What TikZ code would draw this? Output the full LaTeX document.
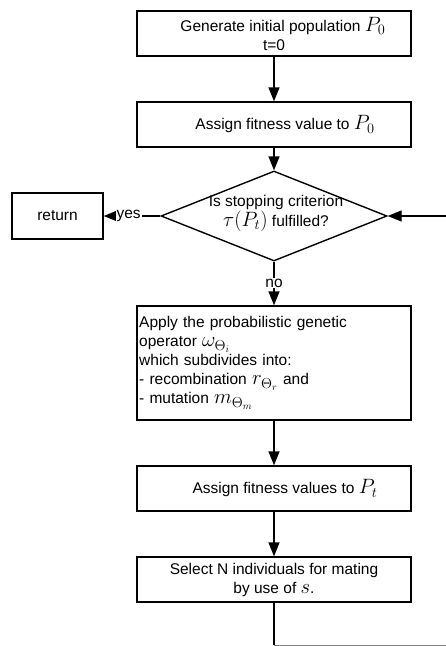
\documentclass[tikz,border=0pt]{standalone}
\usepackage{fontspec}
\setmainfont{Liberation Sans}
\usetikzlibrary{shapes.geometric,arrows.meta}
\newcommand{\mymath}[1]{{\fontsize{20}{19}\selectfont$#1$}}
\newcommand{\tightlines}{\lineskiplimit=-30pt\relax\lineskip=0pt\relax}
\begin{document}
\begin{tikzpicture}[x=1pt,y=-1pt,
  font=\fontsize{15.5}{19}\selectfont\tightlines,
  box/.style={draw,line width=1.4pt,minimum width=274pt,inner sep=0pt,align=center},
  dec/.style={draw,diamond,line width=1.4pt,minimum width=226pt,minimum height=90pt,inner sep=0pt},
  arr/.style={line width=1.4pt,-{Triangle[length=14pt,width=11pt]}},
  con/.style={line width=1.4pt},
  lbl/.style={fill=white,inner sep=1pt}]
\useasboundingbox (0,0) rectangle (446,646);
\node[box,minimum height=45pt] (b1) at (274,33.5) {\hspace*{18pt}Generate initial population \mymath{P_0}\\t=0};
\node[box,minimum height=45pt] (b2) at (274,124.5) {\hspace*{22pt}Assign fitness value to \mymath{P_0}};
\node[dec] (d) at (274,216) {};
\node[align=center] (dt) at (276,213) {Is stopping criterion\\[1pt]\mymath{\tau(P_t)} fulfilled?};
\node[draw,line width=1.4pt,minimum width=91pt,minimum height=46pt,inner sep=0pt] (r) at (57.5,216) {return};
\node[box,minimum height=114pt] (b3) at (274,363) {};
\node[text width=270pt,align=left,inner sep=0pt,anchor=west] (b3t) at (139,363) {Apply the probabilistic genetic\\operator \mymath{\omega_{\Theta_i}}\\which subdivides into:\\- recombination \mymath{r_{\Theta_r}} and\\- mutation \mymath{m_{\Theta_m}}};
\node[box,minimum height=45pt] (b4) at (274,488.5) {\hspace*{22pt}Assign fitness values to \mymath{P_t}};
\node[box,minimum height=45pt] (b5) at (274,579.5) {Select N individuals for mating\\by use of \mymath{s}.};
\coordinate (in) at (446,216);
\coordinate (c1) at (274,645);
\coordinate (c2) at (446,645);
\draw[arr] (b1.south) -- (b2.north);
\draw[arr] (b2.south) -- (d.north);
\draw[arr] (d.west) -- node[lbl,pos=0.56] {yes} (r.east);
\draw[arr] (d.south) -- node[lbl,pos=0.49] {no} (b3.north);
\draw[arr] (in) -- (d.east);
\draw[arr] (b3.south) -- (b4.north);
\draw[arr] (b4.south) -- (b5.north);
\draw[con] (b5.south) -- (c1);
\draw[gray,line width=0.8pt] (c1) -- (c2);
\end{tikzpicture}
\end{document}
